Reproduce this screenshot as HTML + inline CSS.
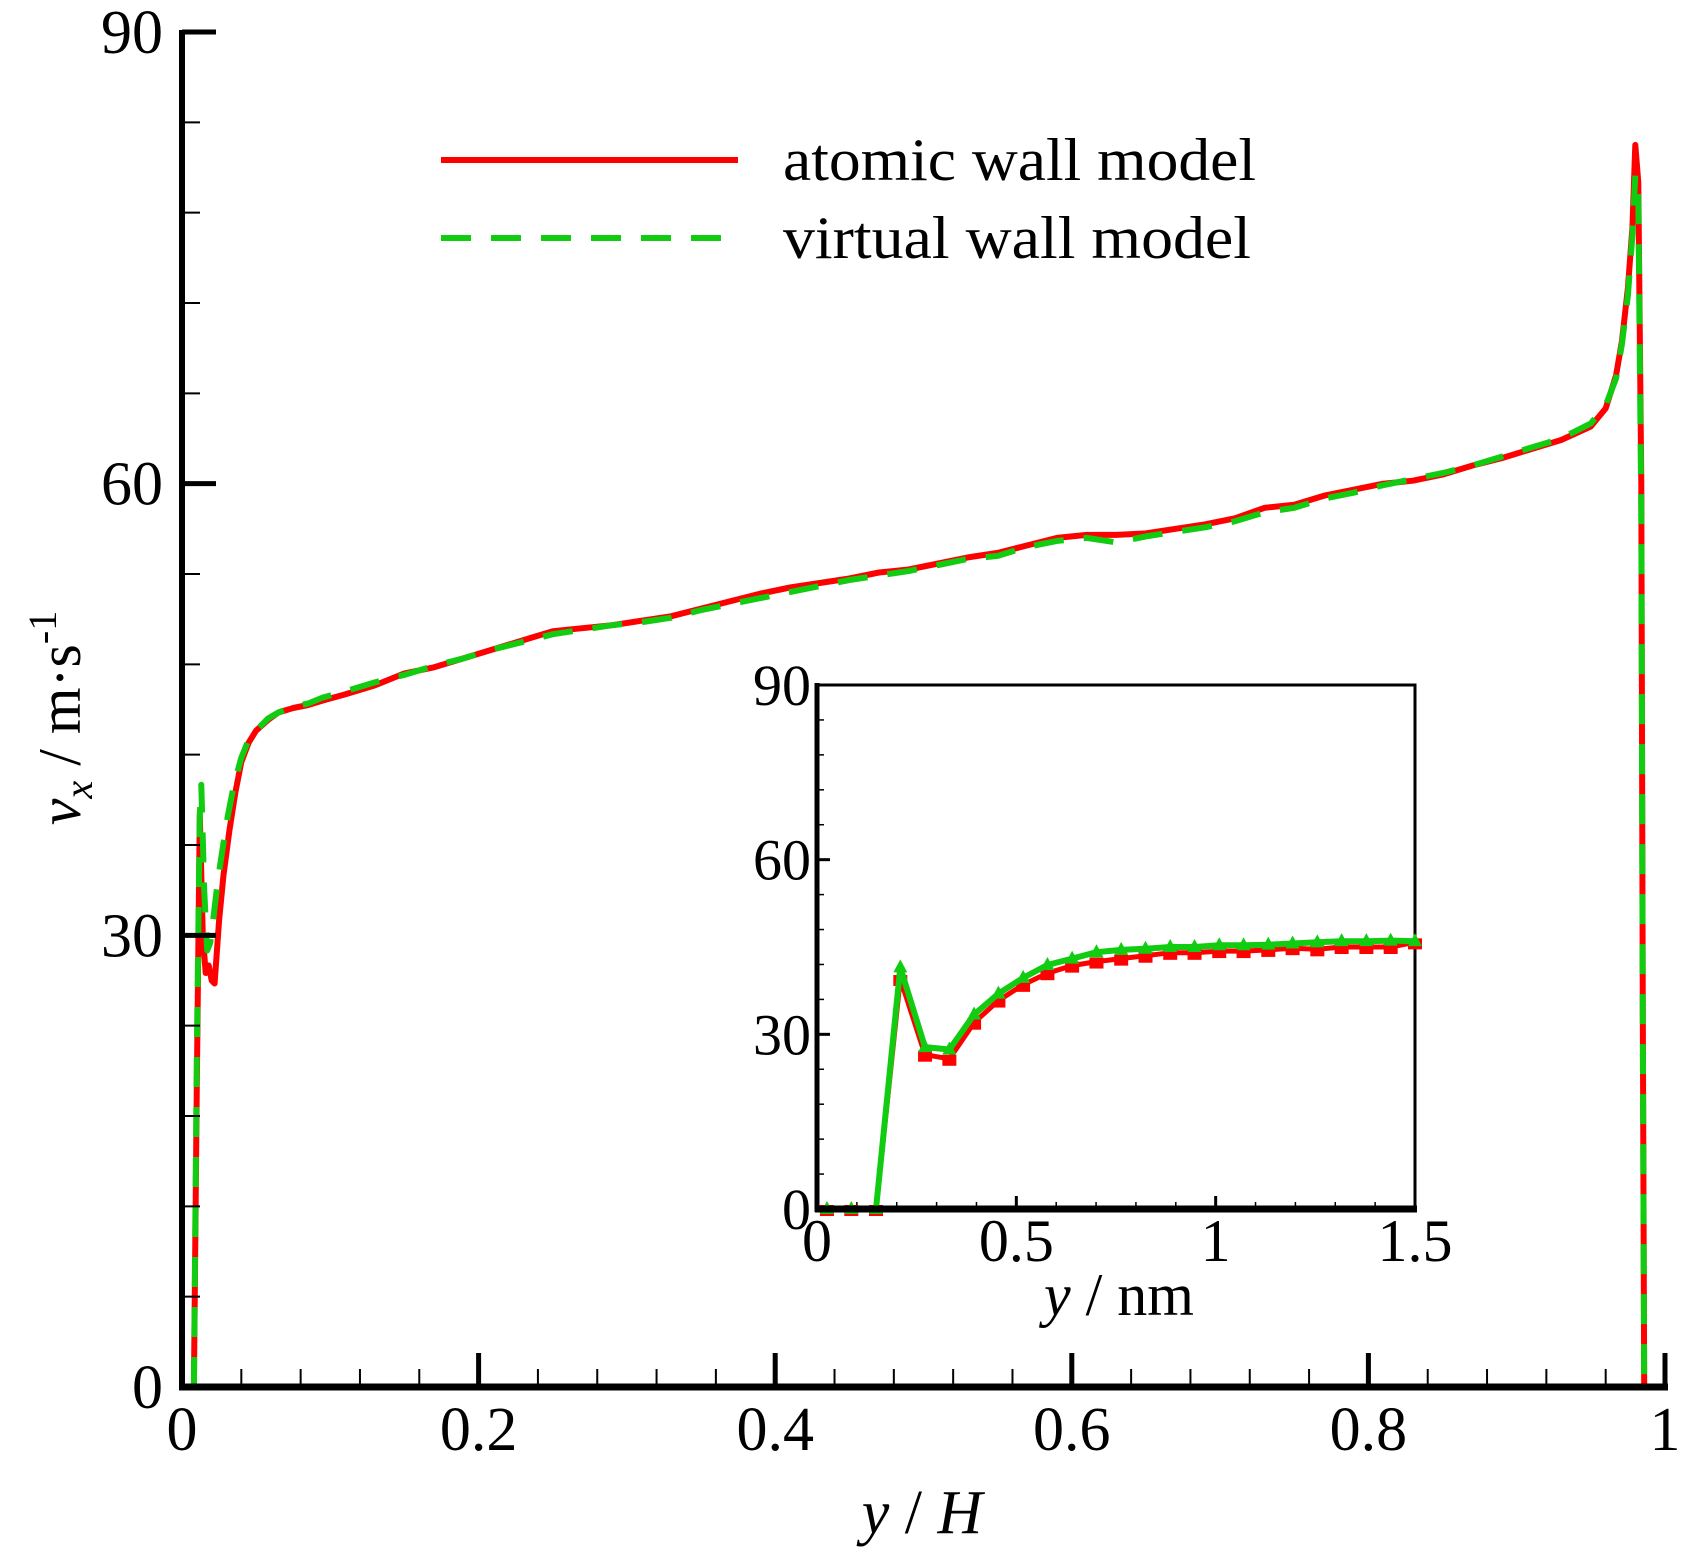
<!DOCTYPE html>
<html><head><meta charset="utf-8"><style>
body{margin:0;background:#fff}
svg{display:block}
text{font-family:"Liberation Serif",serif;fill:#000}
</style></head><body>
<svg id="chart" width="1686" height="1554" viewBox="0 0 1686 1554" xmlns="http://www.w3.org/2000/svg">
<g id="main"></g>
<g id="inset"></g>
<g id="legend">
 <line x1="441" y1="160" x2="738" y2="160" stroke="#ff0000" stroke-width="6"/>
 <text x="783" y="180" font-size="60" textLength="473" lengthAdjust="spacingAndGlyphs">atomic wall model</text>
 <line x1="441" y1="238" x2="738" y2="238" stroke="#11cc11" stroke-width="6" stroke-dasharray="30,20"/>
 <text x="783" y="258" font-size="60" textLength="468" lengthAdjust="spacingAndGlyphs">virtual wall model</text>
</g>
<text x="922" y="1533" font-size="62" text-anchor="middle"><tspan font-style="italic">y</tspan> / <tspan font-style="italic">H</tspan></text>
<text transform="translate(80,718) rotate(-90)" font-size="60" text-anchor="middle"><tspan font-style="italic">v</tspan><tspan font-style="italic" font-size="40" dy="12">x</tspan><tspan dy="-12"> / m·s</tspan><tspan font-size="40" dy="-24">-1</tspan></text>
<text x="1119" y="1315" font-size="60" text-anchor="middle"><tspan font-style="italic">y</tspan> / nm</text>
</svg>
<script>
const mainXTicks=[0,0.2,0.4,0.6,0.8,1];
const mainXTickLabels=["0","0.2","0.4","0.6","0.8","1"];
const mainYTicks=[0,30,60,90];
const mainYTickLabels=["0","30","60","90"];
const atomicX=[0.008,0.010,0.012,0.014,0.016,0.018,0.020,0.022,0.025,0.028,0.032,0.036,0.040,0.045,0.050,0.058,0.065,0.075,0.085,0.095,0.11,0.13,0.15,0.17,0.19,0.21,0.23,0.25,0.27,0.29,0.31,0.33,0.35,0.37,0.39,0.41,0.43,0.45,0.47,0.49,0.51,0.53,0.55,0.57,0.59,0.61,0.63,0.65,0.67,0.69,0.71,0.73,0.75,0.77,0.79,0.81,0.83,0.85,0.87,0.89,0.91,0.93,0.95,0.96,0.967,0.971,0.975,0.978,0.980,0.982,0.984,0.985,0.986];
const atomicY=[0,20,38,30,27.5,28,27,26.8,31,34,37,39.5,41.5,42.8,43.6,44.3,44.8,45.1,45.3,45.6,46,46.6,47.4,47.8,48.4,49,49.6,50.2,50.4,50.6,50.9,51.2,51.7,52.2,52.7,53.1,53.4,53.7,54.1,54.3,54.7,55.1,55.4,55.9,56.4,56.6,56.6,56.7,57,57.3,57.7,58.4,58.6,59.2,59.6,60,60.2,60.6,61.2,61.7,62.3,62.9,63.8,65,67.2,69.5,73,77,82.5,80,60,25,0];
const virtualX=[0.008,0.010,0.012,0.013,0.015,0.017,0.019,0.021,0.024,0.027,0.031,0.035,0.040,0.045,0.050,0.058,0.065,0.075,0.085,0.095,0.11,0.13,0.15,0.17,0.19,0.21,0.23,0.25,0.27,0.29,0.31,0.33,0.35,0.37,0.39,0.41,0.43,0.45,0.47,0.49,0.51,0.53,0.55,0.57,0.59,0.61,0.63,0.65,0.67,0.69,0.71,0.73,0.75,0.77,0.79,0.81,0.83,0.85,0.87,0.89,0.91,0.93,0.95,0.96,0.967,0.971,0.975,0.978,0.980,0.982,0.984,0.985,0.986];
const virtualY=[0,22,38,40,33,29,29.5,31,33.5,35.5,38,40,41.8,43,43.6,44.4,44.8,45.2,45.4,45.8,46.2,46.8,47.3,47.9,48.4,49,49.5,50,50.3,50.6,50.8,51.1,51.6,52,52.4,52.8,53.2,53.6,53.9,54.2,54.6,55,55.2,55.8,56.2,56.4,56.1,56.5,56.8,57.1,57.5,58.1,58.4,59,59.4,59.9,60.3,60.7,61.2,61.8,62.4,63,64,65.2,67,69.3,72.5,76.5,80.5,79,58,24,0];
const insetXTicks=[0,0.5,1,1.5];
const insetXTickLabels=["0","0.5","1","1.5"];
const insetYTicks=[0,30,60,90];
const insetYTickLabels=["0","30","60","90"];
const insetAtomicY=[0,0,0,39.5,26.5,25.8,32,35.8,38.5,40.5,41.8,42.5,43,43.5,44,44,44.3,44.3,44.5,44.8,44.6,45,45,45,45.8];
const insetVirtualY=[0,0,0,41.5,27.8,27.4,33.4,37,39.7,41.9,43,44.1,44.5,44.7,45,45,45.3,45.3,45.4,45.6,45.8,46,46,46.1,46];
const insetX=[0.025,0.086,0.148,0.209,0.271,0.332,0.394,0.455,0.517,0.578,0.640,0.701,0.763,0.824,0.886,0.947,1.009,1.070,1.132,1.193,1.255,1.316,1.378,1.439,1.5];

const NS="http://www.w3.org/2000/svg";
function mk(parent,tag,attrs){const e=document.createElementNS(NS,tag);for(const k in attrs)e.setAttribute(k,attrs[k]);parent.appendChild(e);return e;}

const X0=182,X1=1665;
const mx=v=>X0+v*(X1-X0);
const my=v=>1387-v*(1387-32)/90;
const main=document.getElementById('main');
function pathD(xs,ys,fx,fy){return xs.map((x,i)=>(i?'L':'M')+fx(x).toFixed(1)+','+fy(ys[i]).toFixed(1)).join(' ');}
let p=mk(main,'path',{d:pathD(atomicX,atomicY,mx,my),fill:'none',stroke:'#ff0000','stroke-width':6,'stroke-linejoin':'round'});


p=mk(main,'path',{d:pathD(virtualX,virtualY,mx,my),fill:'none',stroke:'#11cc11','stroke-width':6,'stroke-dasharray':'30,20','stroke-linejoin':'round'});


let a=mk(main,'line',{x1:X0,y1:my(90)-2,x2:X0,y2:1390,stroke:'#000','stroke-width':6});


a=mk(main,'line',{x1:X0-3,y1:1387,x2:X1+3,y2:1387,stroke:'#000','stroke-width':7});


for(let v=0;v<=1.0001;v+=0.04){const maj=Math.abs(v*5-Math.round(v*5))<1e-6;
 const t=mk(main,'line',{x1:mx(v),y1:1387,x2:mx(v),y2:1387-(maj?34:18),stroke:'#000','stroke-width':maj?5:2});
 
 }
for(let v=0;v<=90.001;v+=6){const maj=v%30===0;
 const t=mk(main,'line',{x1:X0,y1:my(v),x2:X0+(maj?34:18),y2:my(v),stroke:'#000','stroke-width':maj?5:2});
 
 }
mainXTicks.forEach((v,i)=>{const t=mk(main,'text',{x:mx(v),y:1450,'font-size':62,'text-anchor':'middle'});t.textContent=mainXTickLabels[i];
 
 });
mainYTicks.forEach((v,i)=>{const t=mk(main,'text',{x:163,y:my(v)+21,'font-size':62,'text-anchor':'end'});t.textContent=mainYTickLabels[i];
 
 });

// inset
const IL=817,IR=1415,IT=685,IB=1209;
const ix=v=>IL+v/1.5*(IR-IL);
const iy=v=>IB-v/90*(IB-IT);
const ins=document.getElementById('inset');
mk(ins,'rect',{x:IL,y:IT,width:IR-IL,height:IB-IT,fill:'#fff',stroke:'#000','stroke-width':3});
for(let v=0;v<=1.5001;v+=0.1){const maj=Math.abs(v*2-Math.round(v*2))<1e-6;
 const t=mk(ins,'line',{x1:ix(v),y1:IB,x2:ix(v),y2:IB-(maj?13:7),stroke:'#000','stroke-width':maj?3:1.5});
 
 }
for(let v=0;v<=90.001;v+=6){const maj=v%30===0;
 const t=mk(ins,'line',{x1:IL,y1:iy(v),x2:IL+(maj?13:7),y2:iy(v),stroke:'#000','stroke-width':maj?3:1.5});
 
 }
p=mk(ins,'path',{d:pathD(insetX,insetAtomicY,ix,iy),fill:'none',stroke:'#ff0000','stroke-width':5,'stroke-linejoin':'round'});


insetX.forEach((x,i)=>{const m=mk(ins,'rect',{x:ix(x)-7,y:iy(insetAtomicY[i])-4,width:14,height:11,fill:'#ff0000'});
 
 });
p=mk(ins,'path',{d:pathD(insetX,insetVirtualY,ix,iy),fill:'none',stroke:'#11cc11','stroke-width':6,'stroke-linejoin':'round'});


insetX.forEach((x,i)=>{const cx=ix(x),cy=iy(insetVirtualY[i]);const m=mk(ins,'polygon',{points:`${cx-7},${cy+5} ${cx+7},${cy+5} ${cx},${cy-8}`,fill:'#11cc11'});
 
 });
a=mk(ins,'line',{x1:IL,y1:IT-2,x2:IL,y2:IB+3,stroke:'#000','stroke-width':5});


a=mk(ins,'line',{x1:IL-2,y1:IB,x2:IR+2,y2:IB,stroke:'#000','stroke-width':7});


insetXTicks.forEach((v,i)=>{const t=mk(ins,'text',{x:ix(v),y:IB+52,'font-size':60,'text-anchor':'middle'});t.textContent=insetXTickLabels[i];
 
 });
insetYTicks.forEach((v,i)=>{const t=mk(ins,'text',{x:IL-6,y:iy(v)+20,'font-size':58,'text-anchor':'end'});t.textContent=insetYTickLabels[i];
 
 });
</script>
</body></html>
